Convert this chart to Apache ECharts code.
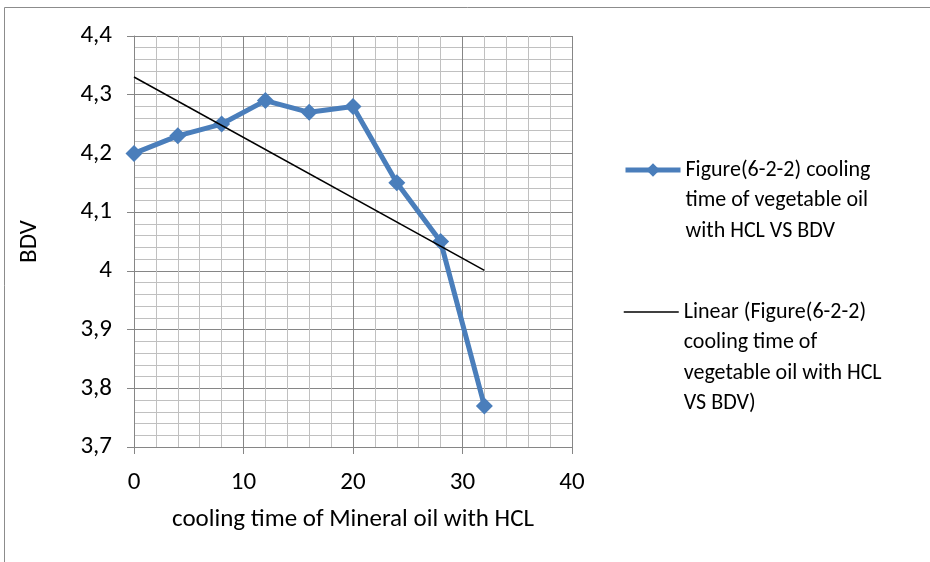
<!DOCTYPE html>
<html>
<head>
<meta charset="utf-8">
<script src="https://cdn.jsdelivr.net/npm/echarts@6/dist/echarts.min.js"></script>
<style>
  html, body { margin: 0; padding: 0; background: #fff; }
  #chart { width: 930px; height: 562px; }
</style>
</head>
<body>
<div id="chart"></div>
<script>
// Cooling time (x) and breakdown voltage (BDV) readings
const coolingTime = [0, 4, 8, 12, 16, 20, 24, 28, 32];
const bdvValues = [4.20, 4.23, 4.25, 4.29, 4.27, 4.28, 4.15, 4.05, 3.77];

const seriesName = 'Figure(6-2-2) cooling time of vegetable oil with HCL VS BDV';
const trendName = 'Linear (Figure(6-2-2) cooling time of vegetable oil with HCL VS BDV)';
const seriesLabelLines = ['Figure(6-2-2) cooling', 'time of vegetable oil', 'with HCL VS BDV'];
const trendLabelLines = ['Linear (Figure(6-2-2)', 'cooling time of', 'vegetable oil with HCL', 'VS BDV)'];

const xAxisTitle = 'cooling time of Mineral oil with HCL';
const yAxisTitle = 'BDV';

// Least-squares linear trend over the measured points
function linearFit(xs, ys) {
  const n = xs.length;
  const mx = xs.reduce((a, b) => a + b, 0) / n;
  const my = ys.reduce((a, b) => a + b, 0) / n;
  let sxy = 0, sxx = 0;
  for (let i = 0; i < n; i++) {
    sxy += (xs[i] - mx) * (ys[i] - my);
    sxx += (xs[i] - mx) * (xs[i] - mx);
  }
  const slope = sxy / sxx;
  return { slope, intercept: my - slope * mx };
}
const fit = linearFit(coolingTime, bdvValues);
const xFirst = coolingTime[0];
const xLast = coolingTime[coolingTime.length - 1];
const trendPoints = [
  [xFirst, fit.intercept + fit.slope * xFirst],
  [xLast, fit.intercept + fit.slope * xLast]
];

const FONT = 'Carlito, Lato, "Liberation Sans", sans-serif';
const AXIS_FONT_SIZE = 25;
const LEGEND_FONT_SIZE = 22;
const LINE_H = 30.5;
const BLUE = '#4a7ebb';

const chart = echarts.init(document.getElementById('chart'), null, { renderer: 'canvas' });

// One legend block per series; blank lines before the wrapped label keep
// its first line level with the icon (the label is centred on the icon).
function legendFor(item, lines, iconCenterY) {
  const padded = new Array(lines.length - 1).fill(' ').concat(lines);
  return {
    orient: 'vertical',
    left: 623,
    top: iconCenterY - padded.length * LINE_H / 2,
    padding: 0,
    itemWidth: 55,
    itemHeight: 17,
    itemGap: 0,
    data: [item],
    formatter: () => padded.join('\n'),
    textStyle: {
      fontFamily: FONT,
      fontSize: LEGEND_FONT_SIZE,
      color: '#000',
      lineHeight: LINE_H
    }
  };
}

chart.setOption({
  animation: false,
  backgroundColor: '#fff',
  graphic: [{
    type: 'rect',
    shape: { x: 4.5, y: 7.5, width: 1000, height: 1000 },
    style: { fill: 'none', stroke: '#8c8c8c', lineWidth: 1 },
    silent: true
  }],
  legend: [
    legendFor({ name: seriesName, lineStyle: { width: 5 } }, seriesLabelLines, 170),
    legendFor({ name: trendName, itemStyle: { opacity: 0 }, lineStyle: { width: 1.5 } }, trendLabelLines, 312)
  ],
  grid: { left: 134, right: 358, top: 36, bottom: 115, containLabel: false },
  xAxis: {
    type: 'value',
    min: 0,
    max: 40,
    interval: 10,
    name: xAxisTitle,
    nameLocation: 'middle',
    nameGap: 60,
    nameTextStyle: { fontFamily: FONT, fontSize: AXIS_FONT_SIZE, color: '#000' },
    axisLine: { onZero: false, lineStyle: { color: '#868686', width: 1 } },
    axisTick: { show: true, length: 7, lineStyle: { color: '#868686' } },
    axisLabel: { margin: 23, fontFamily: FONT, fontSize: AXIS_FONT_SIZE, color: '#000' },
    splitLine: { show: true, lineStyle: { color: '#868686', width: 1 } },
    minorTick: { show: false, splitNumber: 5 },
    minorSplitLine: { show: true, lineStyle: { color: '#c0c0c0', width: 1 } }
  },
  yAxis: {
    type: 'value',
    min: 3.7,
    max: 4.4,
    interval: 0.1,
    name: yAxisTitle,
    nameLocation: 'middle',
    nameGap: 92,
    nameRotate: 90,
    nameTextStyle: { fontFamily: FONT, fontSize: AXIS_FONT_SIZE, color: '#000' },
    axisLine: { show: true, onZero: false, lineStyle: { color: '#868686', width: 1 } },
    axisTick: { show: true, length: 7, lineStyle: { color: '#868686' } },
    axisLabel: {
      margin: 22,
      fontFamily: FONT,
      fontSize: AXIS_FONT_SIZE,
      color: '#000',
      formatter: v => (Math.round(v * 10) / 10).toString().replace('.', ',')
    },
    splitLine: { show: true, lineStyle: { color: '#868686', width: 1 } },
    minorTick: { show: false, splitNumber: 5 },
    minorSplitLine: { show: true, lineStyle: { color: '#c0c0c0', width: 1 } }
  },
  series: [
    {
      name: seriesName,
      type: 'line',
      data: coolingTime.map((x, i) => [x, bdvValues[i]]),
      symbol: 'diamond',
      symbolSize: 17,
      lineStyle: { color: BLUE, width: 5 },
      itemStyle: { color: BLUE },
      z: 3
    },
    {
      name: trendName,
      type: 'line',
      data: trendPoints,
      symbol: 'none',
      lineStyle: { color: '#000', width: 1.5 },
      itemStyle: { color: '#000' },
      z: 4
    }
  ]
});
</script>
</body>
</html>
